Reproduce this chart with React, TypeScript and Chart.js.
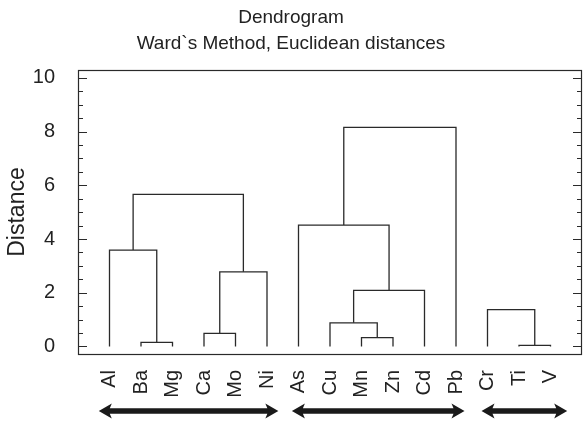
import React, { useEffect, useRef } from 'react';
import { Chart, registerables } from 'chart.js';

Chart.register(...registerables);

// Leaves of the dendrogram, in display order
const LEAVES = ['Al', 'Ba', 'Mg', 'Ca', 'Mo', 'Ni', 'As', 'Cu', 'Mn', 'Zn', 'Cd', 'Pb', 'Cr', 'Ti', 'V'];

// Merges (scipy-style: index < 15 is a leaf, index >= 15 refers to merge k = index - 15)
const MERGE_LEFT = [13, 1, 8, 3, 7, 12, 19, 18, 0, 6, 23, 24];
const MERGE_RIGHT = [14, 2, 9, 4, 17, 15, 10, 5, 16, 21, 22, 11];
const MERGE_HEIGHT = [0.04, 0.15, 0.33, 0.49, 0.88, 1.37, 2.09, 2.78, 3.59, 4.52, 5.66, 8.16];

// Y-axis ticks
const Y_MAJOR = [0, 2, 4, 6, 8, 10];
const Y_MINOR = [0.5, 1, 1.5, 2.5, 3, 3.5, 4.5, 5, 5.5, 6.5, 7, 7.5, 8.5, 9, 9.5];

// Cluster group arrows (in leaf-index units)
const GROUP_START = [-0.34, 5.79, 11.81];
const GROUP_END = [5.36, 11.27, 14.53];

const TITLE = ['Dendrogram', 'Ward`s Method, Euclidean distances'];
const Y_TITLE = 'Distance';

const FONT = "'Liberation Sans', Arial, sans-serif";
const LINE = '#2a2a2a';
const TEXT = '#222';

function buildNodes() {
  const nodes: { x: number; y: number }[] = LEAVES.map((_, i) => ({ x: i, y: 0 }));
  MERGE_HEIGHT.forEach((h, k) => {
    const l = nodes[MERGE_LEFT[k]];
    const r = nodes[MERGE_RIGHT[k]];
    nodes.push({ x: (l.x + r.x) / 2, y: h });
  });
  return nodes;
}

const framePlugin = {
  id: 'frame',
  afterDraw(chart: any) {
    const { ctx, chartArea, scales } = chart;
    const { left, right, top, bottom } = chartArea;
    const ys = scales.y;
    const xs = scales.x;
    ctx.save();
    ctx.strokeStyle = LINE;
    ctx.lineWidth = 1.2;
    ctx.strokeRect(Math.round(left) + 0.5, Math.round(top) + 0.5, Math.round(right - left) - 1, Math.round(bottom - top));
    const tick = (v: number, len: number) => {
      const y = Math.round(ys.getPixelForValue(v)) + 0.5;
      ctx.beginPath();
      ctx.moveTo(left, y);
      ctx.lineTo(left + len, y);
      ctx.moveTo(right, y);
      ctx.lineTo(right - len, y);
      ctx.stroke();
    };
    Y_MAJOR.forEach((v) => tick(v, 9));
    Y_MINOR.forEach((v) => tick(v, 5));

    // group arrows
    ctx.fillStyle = '#1a1a1a';
    const yc = bottom + 57;
    const headL = 13;
    const headH = 7.5;
    const shaft = 2.8;
    GROUP_START.forEach((s, i) => {
      const x0 = xs.getPixelForValue(s);
      const x1 = xs.getPixelForValue(GROUP_END[i]);
      ctx.beginPath();
      ctx.moveTo(x0, yc);
      ctx.lineTo(x0 + headL, yc - headH);
      ctx.lineTo(x0 + headL - 2, yc - shaft);
      ctx.lineTo(x1 - headL + 2, yc - shaft);
      ctx.lineTo(x1 - headL, yc - headH);
      ctx.lineTo(x1, yc);
      ctx.lineTo(x1 - headL, yc + headH);
      ctx.lineTo(x1 - headL + 2, yc + shaft);
      ctx.lineTo(x0 + headL - 2, yc + shaft);
      ctx.lineTo(x0 + headL, yc + headH);
      ctx.closePath();
      ctx.fill();
    });
    ctx.restore();
  },
};

export default function App() {
  const ref = useRef<HTMLCanvasElement>(null);

  useEffect(() => {
    const nodes = buildNodes();
    const datasets = MERGE_HEIGHT.map((h, k) => {
      const l = nodes[MERGE_LEFT[k]];
      const r = nodes[MERGE_RIGHT[k]];
      return {
        type: 'line' as const,
        data: [
          { x: l.x, y: l.y },
          { x: l.x, y: h },
          { x: r.x, y: h },
          { x: r.x, y: r.y },
        ],
        borderColor: LINE,
        borderWidth: 1.3,
        pointRadius: 0,
        tension: 0,
        fill: false,
      };
    });

    const chart = new Chart(ref.current!, {
      type: 'line',
      data: { datasets },
      options: {
        animation: false,
        responsive: false,
        devicePixelRatio: 1,
        layout: { padding: { left: 0, right: 1, top: 0, bottom: 0 } },
        plugins: {
          legend: { display: false },
          tooltip: { enabled: false },
          title: {
            display: true,
            text: TITLE,
            color: TEXT,
            font: { family: FONT, size: 19, weight: 'normal', lineHeight: 1.37 },
            padding: { top: 5, bottom: 13 },
          },
        },
        scales: {
          x: {
            type: 'linear',
            min: -1,
            max: 15,
            afterBuildTicks: (scale: any) => {
              scale.ticks = LEAVES.map((_, i) => ({ value: i }));
            },
            afterFit: (scale: any) => {
              scale.height = 67;
              scale.paddingLeft = 0;
              scale.paddingRight = 0;
            },
            grid: { display: false, drawTicks: false },
            border: { display: false },
            ticks: {
              autoSkip: false,
              maxRotation: 90,
              minRotation: 90,
              padding: 16,
              color: TEXT,
              font: { family: FONT, size: 20 },
              callback: (v: any) => LEAVES[v] ?? '',
            },
          },
          y: {
            type: 'linear',
            min: -0.28,
            max: 10.29,
            afterBuildTicks: (scale: any) => {
              scale.ticks = Y_MAJOR.map((v) => ({ value: v }));
            },
            afterFit: (scale: any) => {
              scale.width = 78;
              scale.paddingTop = 0;
              scale.paddingBottom = 0;
            },
            grid: { display: false, drawTicks: false },
            border: { display: false },
            ticks: {
              padding: 23,
              color: TEXT,
              font: { family: FONT, size: 20 },
            },
            title: {
              display: true,
              text: Y_TITLE,
              color: TEXT,
              font: { family: FONT, size: 23 },
              padding: { top: 4, bottom: 0 },
            },
          },
        },
      },
      plugins: [framePlugin],
    });
    return () => chart.destroy();
  }, []);

  return (
    <div style={{ position: 'absolute', left: 0, top: 0, width: 583, height: 421 }}>
      <canvas ref={ref} width={583} height={421} style={{ width: 583, height: 421, display: 'block' }} />
    </div>
  );
}
